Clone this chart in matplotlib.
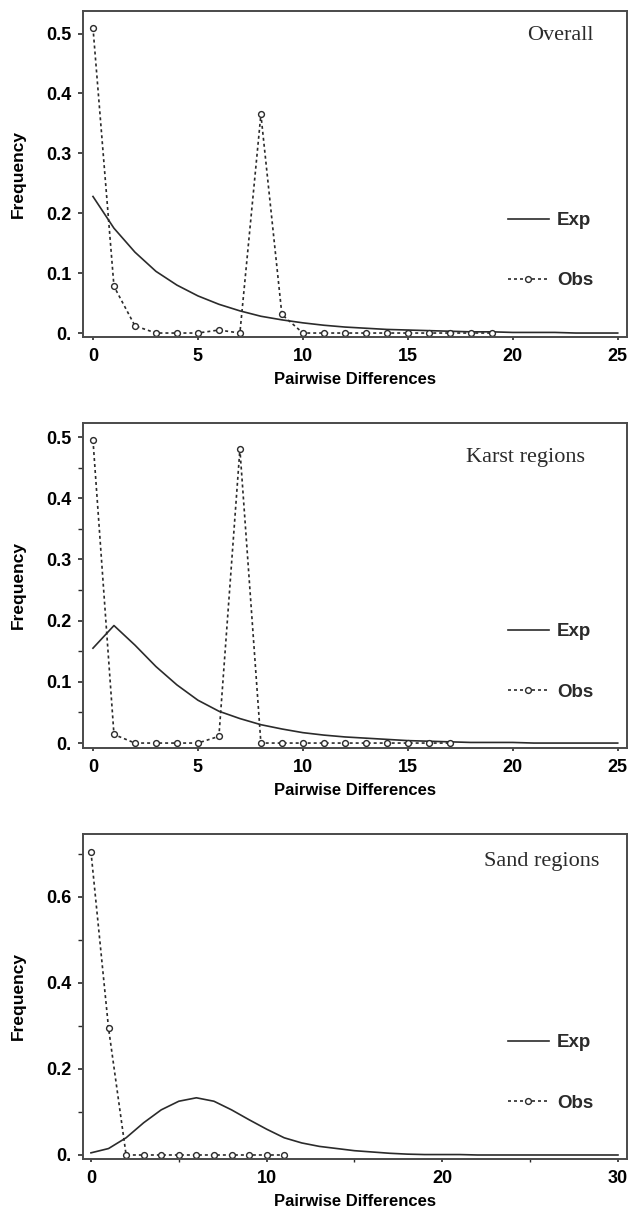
"""
plot.py
───────
Mismatch distributions (observed vs expected) for three region groups.
"""

import matplotlib
matplotlib.use('Agg')
import matplotlib.pyplot as plt
from matplotlib.ticker import FixedLocator, FixedFormatter, MultipleLocator

# ── Data ──────────────────────────────────────────────────────────────────────
OVERALL_OBS_X = list(range(0, 20))
OVERALL_OBS = [0.510, 0.078, 0.012, 0.000, 0.000, 0.000, 0.005, 0.000, 0.365, 0.031,
               0.000, 0.000, 0.000, 0.000, 0.000, 0.000, 0.000, 0.000, 0.000, 0.000]
OVERALL_EXP_X = list(range(0, 26))
OVERALL_EXP = [0.228, 0.175, 0.135, 0.103, 0.080, 0.062, 0.048, 0.037, 0.028, 0.022,
               0.017, 0.013, 0.010, 0.008, 0.006, 0.005, 0.004, 0.003, 0.002, 0.002,
               0.001, 0.001, 0.001, 0.000, 0.000, 0.000]

KARST_OBS_X = list(range(0, 18))
KARST_OBS = [0.495, 0.014, 0.000, 0.000, 0.000, 0.000, 0.011, 0.480, 0.000, 0.000,
             0.000, 0.000, 0.000, 0.000, 0.000, 0.000, 0.000, 0.000]
KARST_EXP_X = list(range(0, 26))
KARST_EXP = [0.155, 0.192, 0.160, 0.125, 0.095, 0.070, 0.052, 0.040, 0.030, 0.023,
             0.017, 0.013, 0.010, 0.008, 0.006, 0.004, 0.003, 0.002, 0.001, 0.001,
             0.001, 0.000, 0.000, 0.000, 0.000, 0.000]

SAND_OBS_X = list(range(0, 12))
SAND_OBS = [0.705, 0.295, 0.000, 0.000, 0.000, 0.000, 0.000, 0.000, 0.000, 0.000,
            0.000, 0.000]
SAND_EXP_X = list(range(0, 31))
SAND_EXP = [0.005, 0.015, 0.040, 0.075, 0.105, 0.125, 0.133, 0.125, 0.105, 0.082,
            0.060, 0.040, 0.028, 0.020, 0.015, 0.010, 0.007, 0.004, 0.002, 0.001,
            0.001, 0.001, 0.000, 0.000, 0.000, 0.000, 0.000, 0.000, 0.000, 0.000,
            0.000]

TITLES = ['Overall', 'Karst regions', 'Sand regions']

Y_TICKS_A = [0.0, 0.1, 0.2, 0.3, 0.4, 0.5]
Y_LABELS_A = ['0.', '0.1', '0.2', '0.3', '0.4', '0.5']
Y_TICKS_B = [0.0, 0.2, 0.4, 0.6]
Y_LABELS_B = ['0.', '0.2', '0.4', '0.6']

# ── Style ─────────────────────────────────────────────────────────────────────
SANS = ['Liberation Sans Narrow', 'Liberation Sans', 'DejaVu Sans']
SERIF = ['Liberation Serif', 'DejaVu Serif']
INK = '#2b2b2b'
SPINE = '#4a4a4a'

plt.rcParams['font.family'] = SANS


def draw_panel(ax, exp_x, exp_y, obs_x, obs_y, title, xlim, ylim,
               yticks, ylabels, xmajor, xminor=None, yminor=None,
               title_pos=(0.94, 0.92)):
    ax.plot(exp_x, exp_y, '-', color=INK, lw=1.2, label='Exp')
    ax.plot(obs_x, obs_y, linestyle=(0, (1.8, 1.8)), color=INK, lw=1.2,
            marker='o', markersize=4.2, markerfacecolor='white',
            markeredgecolor=INK, markeredgewidth=1.0, label='Obs')

    ax.set_xlim(*xlim)
    ax.set_ylim(*ylim)
    ax.xaxis.set_major_locator(MultipleLocator(xmajor))
    if xminor:
        ax.xaxis.set_minor_locator(MultipleLocator(xminor))
    ax.yaxis.set_major_locator(FixedLocator(yticks))
    ax.yaxis.set_major_formatter(FixedFormatter(ylabels))
    if yminor:
        ax.yaxis.set_minor_locator(MultipleLocator(yminor))

    ax.tick_params(axis='both', which='both', direction='out', color=INK)
    ax.tick_params(axis='y', which='major', length=3.5, width=1.2, pad=5,
                   labelsize=13)
    ax.tick_params(axis='y', which='minor', length=3.5, width=1.0)
    ax.tick_params(axis='x', which='major', length=2, width=1.2, pad=6,
                   labelsize=13)
    ax.tick_params(axis='x', which='minor', length=2, width=1.0)
    for lbl in ax.get_xticklabels() + ax.get_yticklabels():
        lbl.set_fontweight('bold')

    for s in ax.spines.values():
        s.set_color(SPINE)
        s.set_linewidth(1.4)

    ax.set_xlabel('Pairwise Differences', fontsize=12, fontweight='bold',
                  labelpad=5)
    ax.set_ylabel('Frequency', fontsize=12.5, fontweight='bold')
    ax.yaxis.set_label_coords(-0.104, 0.5)

    ax.text(title_pos[0], title_pos[1], title, transform=ax.transAxes,
            ha='right', va='center', family=SERIF, fontsize=16, color=INK)

    leg = ax.legend(loc='center left', bbox_to_anchor=(0.781, 0.265),
                    frameon=False, borderpad=0, borderaxespad=0,
                    handlelength=2.2, handletextpad=0.43, labelspacing=2.3,
                    prop={'family': SANS, 'weight': 'bold', 'size': 13.5})
    for t in leg.get_texts():
        t.set_color(INK)


# ── Figure ────────────────────────────────────────────────────────────────────
fig = plt.figure(figsize=(6.28, 12.15), dpi=100)
ax1 = fig.add_axes([0.132, 0.7226, 0.866, 0.268])
ax2 = fig.add_axes([0.132, 0.3844, 0.866, 0.2675])
ax3 = fig.add_axes([0.132, 0.0461, 0.866, 0.2675])

draw_panel(ax1, OVERALL_EXP_X, OVERALL_EXP, OVERALL_OBS_X, OVERALL_OBS,
           TITLES[0], (-0.48, 25.43), (-0.0067, 0.537), Y_TICKS_A, Y_LABELS_A,
           xmajor=5, title_pos=(0.939, 0.926))
draw_panel(ax2, KARST_EXP_X, KARST_EXP, KARST_OBS_X, KARST_OBS,
           TITLES[1], (-0.48, 25.43), (-0.008, 0.523), Y_TICKS_A, Y_LABELS_A,
           xmajor=5, yminor=0.05, title_pos=(0.923, 0.895))
draw_panel(ax3, SAND_EXP_X, SAND_EXP, SAND_OBS_X, SAND_OBS,
           TITLES[2], (-0.46, 30.5), (-0.0093, 0.7465), Y_TICKS_B, Y_LABELS_B,
           xmajor=10, xminor=5, yminor=0.1, title_pos=(0.950, 0.914))

fig.savefig('out.png', dpi=100)
plt.close(fig)
